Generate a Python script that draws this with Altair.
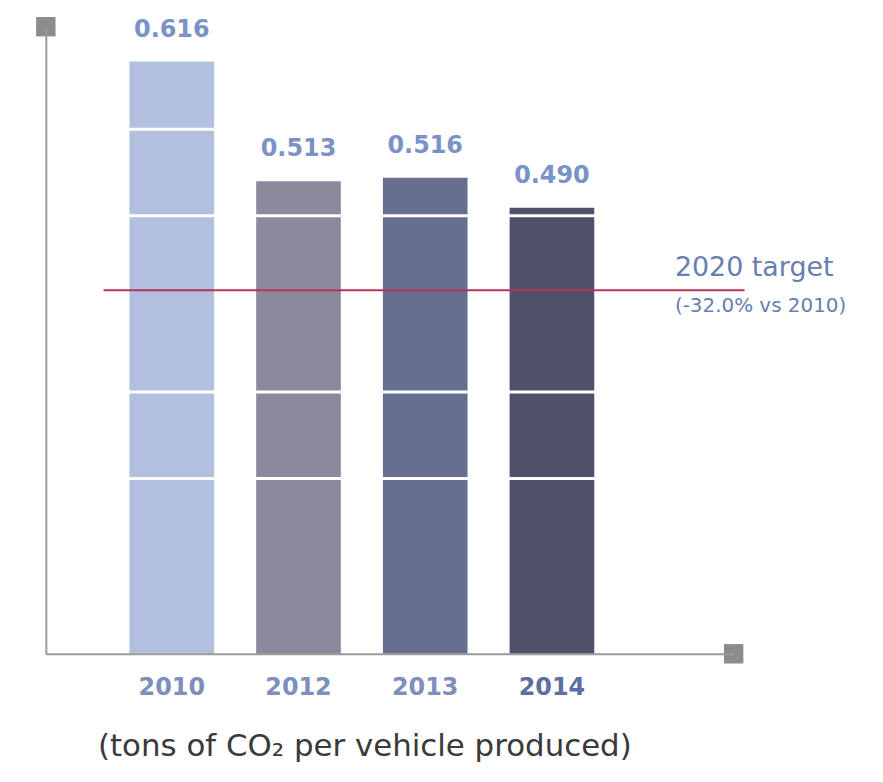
import altair as alt
import pandas as pd

# ---- data ----
years = ["2010", "2012", "2013", "2014"]
values = [0.616, 0.513, 0.516, 0.490]
value_labels = ["0.616", "0.513", "0.516", "0.490"]
target_value = 0.419          # 2020 target (-32.0% vs 2010)
target_title = ["2020 target"]
target_note = ["(-32.0% vs 2010)"]
band_lines = [0.5577, 0.4831, 0.3314, 0.2569]   # white separators across bars
axis_title = "(tons of CO\u2082 per vehicle produced)"

bar_colors = ["#b3bfde", "#8b8a9d", "#676f8f", "#4f5069"]

df = pd.DataFrame({"year": years, "value": values, "label": value_labels})
lines_df = pd.DataFrame({"value": band_lines})
target_df = pd.DataFrame({"value": [target_value], "title": target_title, "note": target_note})
one = pd.DataFrame({"k": [0]})

FONT = "DejaVu Sans"
y_min, y_max = 0.106, 0.646
y_scale = alt.Scale(domain=[y_min, y_max], zero=False, nice=False)
x_scale = alt.Scale(domain=years, paddingInner=0.332, paddingOuter=0.88, align=0.375)

bars = alt.Chart(df).mark_bar().encode(
    x=alt.X("year:N", scale=x_scale, sort=years,
            axis=alt.Axis(title=axis_title, labelAngle=0, ticks=False, tickSize=0, grid=False,
                          domainColor="#9a9a9a", domainWidth=2,
                          labelFont=FONT, labelFontSize=24, labelPadding=34, labelBaseline="middle",
                          labelColor=alt.expr("datum.value == '2014' ? '#5b6fa0' : '#7d8fba'"),
                          labelFontWeight="bold",
                          titleFont=FONT, titleFontSize=31, titleFontWeight="normal",
                          titleColor="#3a3a3a", titleX=366 - 46, titleY=78, titleBaseline="top",
                          titleAlign="center", zindex=1)),
    y=alt.Y("value:Q", scale=y_scale,
            axis=alt.Axis(title=None, labels=False, ticks=False, grid=False,
                          domainColor="#9a9a9a", domainWidth=2, zindex=1)),
    y2=alt.Y2(datum=y_min),
    color=alt.Color("year:N", scale=alt.Scale(domain=years, range=bar_colors), legend=None),
)

separators = alt.Chart(lines_df).mark_rule(color="white", strokeWidth=3).encode(
    y=alt.Y("value:Q", scale=y_scale)
)

target_line = alt.Chart(target_df).mark_rule(color="#b2345a", strokeWidth=2).encode(
    y=alt.Y("value:Q", scale=y_scale), x=alt.value(58), x2=alt.value(702)
)

value_text = alt.Chart(df).mark_text(font=FONT, fontSize=24, fontWeight="bold", color="#7a92c8",
                                     baseline="middle", dy=-32).encode(
    x=alt.X("year:N", scale=x_scale, sort=years),
    y=alt.Y("value:Q", scale=y_scale),
    text="label:N",
)

target_text = alt.Chart(target_df).mark_text(font=FONT, fontSize=27, color="#687db0",
                                             align="left", baseline="middle", dy=-22).encode(
    x=alt.value(632), y=alt.Y("value:Q", scale=y_scale), text="title:N"
)
target_note_text = alt.Chart(target_df).mark_text(font=FONT, fontSize=20, color="#687db0",
                                                  align="left", baseline="middle", dy=16).encode(
    x=alt.value(632), y=alt.Y("value:Q", scale=y_scale), text="note:N"
)

sq_top = alt.Chart(one).mark_square(size=380, color="#8c8c8c", opacity=1).encode(
    x=alt.value(0), y=alt.value(0))
sq_right = alt.Chart(one).mark_square(size=380, color="#8c8c8c", opacity=1).encode(
    x=alt.value(691), y=alt.value(630))

chart = alt.layer(
    bars, separators, target_line, value_text, target_text, target_note_text, sq_top, sq_right
).properties(
    width=691, height=630,
    padding={"left": 38, "top": 17, "right": 142, "bottom": 120},
    autosize=alt.AutoSizeParams(type="none"),
    background="white",
).configure_view(stroke=None)

chart.save("out.html", embed_options={"renderer": "svg", "actions": False})
